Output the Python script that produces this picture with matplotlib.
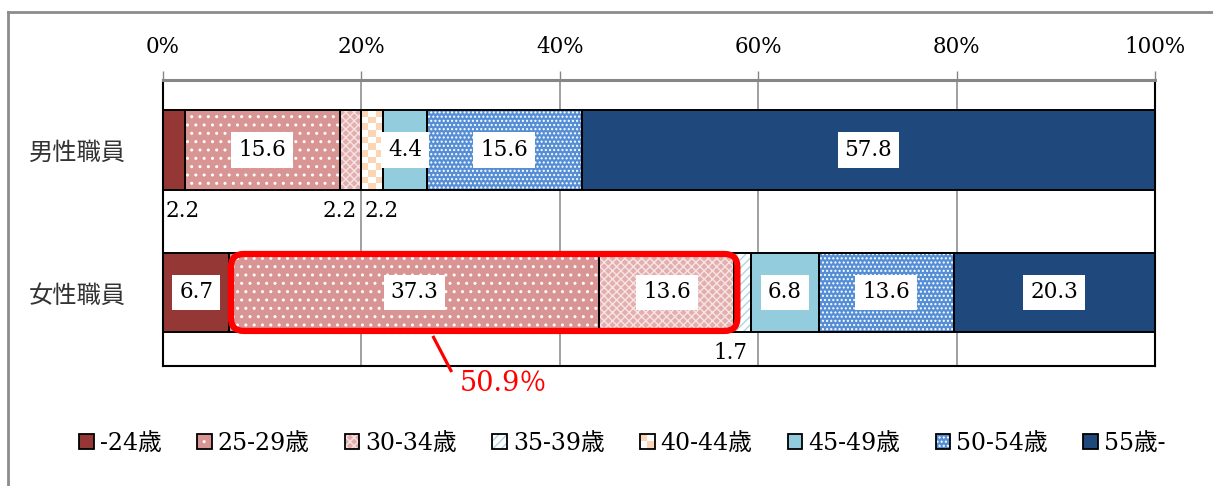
import numpy as np
import matplotlib
matplotlib.use("Agg")
import matplotlib.pyplot as plt
from matplotlib.patches import Rectangle, FancyBboxPatch
from matplotlib.lines import Line2D
from matplotlib.legend_handler import HandlerBase

# ---- data -------------------------------------------------------------
groups = ["男性職員", "女性職員"]
age_bands = ["-24歳", "25-29歳", "30-34歳", "35-39歳", "40-44歳", "45-49歳", "50-54歳", "55歳-"]
male = [2.2, 15.6, 2.2, 0.0, 2.2, 4.4, 15.6, 57.8]
female = [6.7, 37.3, 13.6, 1.7, 0.0, 6.8, 13.6, 20.3]
x_ticks = [0, 20, 40, 60, 80, 100]
x_tick_labels = ["0%", "20%", "40%", "60%", "80%", "100%"]
highlight_group = "女性職員"
highlight_bands = ["25-29歳", "30-34歳"]

# ---- styles -----------------------------------------------------------
SERIF = ["DejaVu Serif", "Noto Sans CJK JP"]
CJK = ["Noto Sans CJK JP", "DejaVu Sans"]
plt.rcParams["hatch.linewidth"] = 1.0

band_styles = [
    dict(fc="#953735", hatch=None, hc="#953735"),
    dict(fc="#D99594", hatch="..", hc="white"),
    dict(fc="#E3AFAE", hatch="xxxx", hc="#F7E4E4"),
    dict(fc="white", hatch="////", hc="#A9D6E4"),
    dict(fc="white", hatch=None, hc="white", checker="#FCD5B5"),
    dict(fc="#93CDDD", hatch=None, hc="#93CDDD"),
    dict(fc="#558ED5", hatch="....", hc="white"),
    dict(fc="#1F497D", hatch=None, hc="#1F497D"),
]
# where small values are written below the bar: (group, band) -> alignment
below_align = {(0, 0): "left", (0, 2): "right", (0, 4): "left", (1, 3): "right"}

W, H, DPI = 1213, 486, 100
fig = plt.figure(figsize=(W / DPI, H / DPI), dpi=DPI)
ax_l, ax_r, ax_t, ax_b = 163, 1155, 80, 366
ax = fig.add_axes([ax_l / W, 1 - ax_b / H, (ax_r - ax_l) / W, (ax_b - ax_t) / H])

XLIM = (0, 100)
YLIM = (1.516, -0.491)
ax.set_xlim(*XLIM)
ax.set_ylim(*YLIM)
xpx = (ax_r - ax_l) / (XLIM[1] - XLIM[0])
ypx = (ax_b - ax_t) / abs(YLIM[0] - YLIM[1])

data = np.array([male, female])
ypos = np.arange(len(groups))
bar_h = 0.56
lefts = np.zeros(len(groups))
segments = {}

for j, band in enumerate(age_bands):
    vals = data[:, j]
    st = band_styles[j]
    keep = vals > 0
    fill = ax.barh(ypos[keep], vals[keep], left=lefts[keep], height=bar_h,
                   color=st["fc"], edgecolor=st["hc"], linewidth=0,
                   hatch=st["hatch"], zorder=2)
    ax.barh(ypos[keep], vals[keep], left=lefts[keep], height=bar_h,
            color="none", edgecolor="black", linewidth=1.4, zorder=3)
    if "checker" in st:
        cell = 6.7
        rgb = np.array(matplotlib.colors.to_rgb(st["checker"]))
        for p in fill.patches:
            x0, w, y0, h = p.get_x(), p.get_width(), p.get_y(), p.get_height()
            nc = max(1, int(round(w * xpx / cell)))
            nr = max(1, int(round(h * ypx / cell)))
            ii, jj = np.indices((nr, nc))
            img = np.ones((nr, nc, 3))
            img[(ii + jj) % 2 == 0] = rgb
            ax.imshow(img, extent=(x0, x0 + w, y0 + h, y0), origin="upper",
                      aspect="auto", interpolation="nearest", zorder=2.5)
    for gi in range(len(groups)):
        v = vals[gi]
        segments[(gi, j)] = (lefts[gi], v)
        if v <= 0:
            continue
        if (gi, j) in below_align:
            ha = below_align[(gi, j)]
            x = lefts[gi] + (v if ha == "right" else 0)
            ax.annotate(f"{v:.1f}", xy=(x, ypos[gi] + bar_h / 2 + 0.148),
                        xytext=(-3 if ha == "right" else 2, 0), textcoords="offset points",
                        ha=ha, va="center", fontsize=15.5, family=SERIF,
                        color="black", zorder=1.5, annotation_clip=True)
        else:
            ax.text(lefts[gi] + v / 2, ypos[gi], f"{v:.1f}", ha="center", va="center",
                    fontsize=15.5, family=SERIF, zorder=5,
                    bbox=dict(boxstyle="square,pad=0.32", fc="white", ec="none"))
    lefts = lefts + vals

ax.set_xlim(*XLIM)
ax.set_ylim(*YLIM)

# ---- highlighted span on the female bar ---------------------------------
gi = groups.index(highlight_group)
idx = [age_bands.index(b) for b in highlight_bands]
hx0 = segments[(gi, idx[0])][0]
hx1 = segments[(gi, idx[-1])][0] + segments[(gi, idx[-1])][1]
share = sum(data[gi, k] for k in idx)
r = 1.3
box = FancyBboxPatch((hx0 + 0.15, ypos[gi] - bar_h / 2 + 0.01), hx1 - hx0 + 0.15, bar_h - 0.02,
                     boxstyle=f"round,pad=0,rounding_size={r}",
                     mutation_aspect=xpx / ypx, transform=ax.transData,
                     fill=False, ec="#FF0000", lw=4.5, zorder=6, clip_on=False)
ax.add_patch(box)
ax.plot([27.2, 29.1], [ypos[gi] + 0.305, ypos[gi] + 0.558], color="#FF0000",
        lw=2.3, clip_on=False, zorder=6, solid_capstyle="butt")
ax.text(29.9, ypos[gi] + 0.64, f"{share:.1f}％", color="#FF0000", fontsize=19.5,
        family=SERIF, ha="left", va="center", clip_on=False, zorder=6)

# ---- axes styling -------------------------------------------------------
ax.xaxis.tick_top()
ax.set_xticks(x_ticks, x_tick_labels)
ax.tick_params(axis="x", top=True, bottom=False, length=6.5, width=1.0,
               color="#868686", pad=9, labelsize=15.5)
for lab in ax.get_xticklabels():
    lab.set_family(SERIF)
ax.set_yticks(ypos, groups)
ax.tick_params(axis="y", left=False, length=0, pad=27, labelsize=17.5)
for lab in ax.get_yticklabels():
    lab.set_family(CJK)
    lab.set_color("#333333")
ax.xaxis.grid(True, color="#868686", lw=1.1)
ax.set_axisbelow(True)
ax.spines["top"].set_color("#868686")
ax.spines["top"].set_linewidth(2.2)
for s in ("left", "right", "bottom"):
    ax.spines[s].set_color("black")
    ax.spines[s].set_linewidth(1.5)


# ---- legend -------------------------------------------------------------
class SwatchHandler(HandlerBase):
    def __init__(self, st):
        super().__init__()
        self.st = st

    def create_artists(self, legend, orig_handle, xdescent, ydescent,
                       width, height, fontsize, trans):
        st = self.st
        x0, y0 = -xdescent, -ydescent
        arts = [Rectangle((x0, y0), width, height, fc=st["fc"], ec=st["hc"],
                          lw=0, hatch=st["hatch"], transform=trans)]
        if "checker" in st:
            for i, k in [(0, 1), (1, 0)]:
                arts.append(Rectangle((x0 + i * width / 2, y0 + k * height / 2),
                                      width / 2, height / 2, fc=st["checker"],
                                      ec="none", transform=trans))
        arts.append(Rectangle((x0, y0), width, height, fc="none", ec="black",
                              lw=1.3, transform=trans))
        return arts


handles = [Rectangle((0, 0), 1, 1) for _ in age_bands]
hmap = {h: SwatchHandler(st) for h, st in zip(handles, band_styles)}
fig.legend(handles, age_bands, handler_map=hmap, loc="center",
           bbox_to_anchor=(0.513, 1 - 443 / H), ncol=len(age_bands), frameon=False,
           handlelength=0.62, handleheight=0.62, handletextpad=0.25,
           columnspacing=1.5, prop=dict(family=SERIF, size=17))

# ---- outer frame ---------------------------------------------------------
fx, fy = 8 / W, 1 - 12 / H
fig.add_artist(Line2D([fx, fx], [0, fy], color="#8C8C8C", lw=2, transform=fig.transFigure))
fig.add_artist(Line2D([fx, 1.01], [fy, fy], color="#8C8C8C", lw=2, transform=fig.transFigure))

fig.savefig("out.png", dpi=DPI)
